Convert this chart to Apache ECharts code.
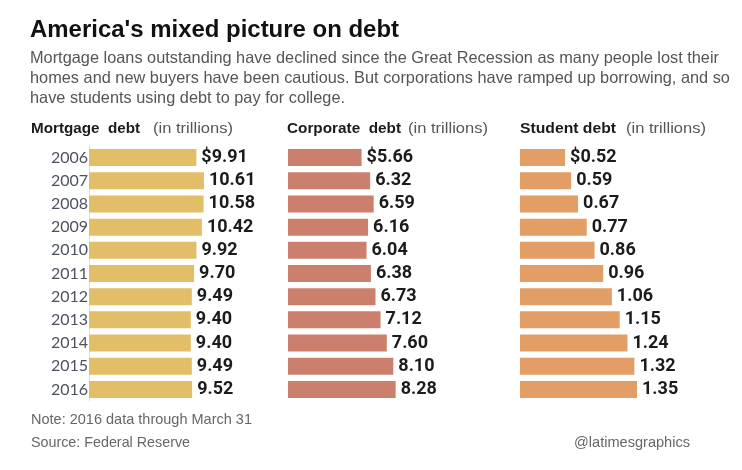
<!DOCTYPE html>
<html>
<head>
<meta charset="utf-8">
<script src="https://cdn.jsdelivr.net/npm/echarts@6/dist/echarts.min.js"></script>
<style>
html, body { margin: 0; padding: 0; background: #fff; }
#chart { width: 742px; height: 470px; }
</style>
</head>
<body>
<div id="chart"></div>
<script>
// 年份
var years = ['2006', '2007', '2008', '2009', '2010', '2011', '2012', '2013', '2014', '2015', '2016'];
// 三类债务（万亿美元）
var mortgageDebt = [9.91, 10.61, 10.58, 10.42, 9.92, 9.70, 9.49, 9.40, 9.40, 9.49, 9.52];
var corporateDebt = [5.66, 6.32, 6.59, 6.16, 6.04, 6.38, 6.73, 7.12, 7.60, 8.10, 8.28];
var studentDebt = [0.52, 0.59, 0.67, 0.77, 0.86, 0.96, 1.06, 1.15, 1.24, 1.32, 1.35];

var subtitleLines = [
	'Mortgage loans outstanding have declined since the Great Recession as many people lost their',
	'homes and new buyers have been cautious. But corporations have ramped up borrowing, and so',
	'have students using debt to pay for college.'
];

var family = "'Liberation Sans', Arial, sans-serif";
var measureCtx = document.createElement('canvas').getContext('2d');

//压窄字体：按目标宽度求横向缩放
function fitScale(str, size, weight, width) {
	measureCtx.font = weight + ' ' + size + 'px ' + family;
	return width / measureCtx.measureText(str).width;
}

function txt(str, x, y, size, weight, color, sx, align) {
	return {
		type : 'text',
		x : x,
		y : y,
		scaleX : sx,
		silent : true,
		style : {
			text : str,
			fontSize : size,
			fontWeight : weight,
			fontFamily : family,
			fill : color,
			align : align || 'left',
			verticalAlign : 'middle'
		}
	};
}

function fitTxt(str, x, y, size, weight, color, width, align) {
	return txt(str, x, y, size, weight, color, fitScale(str, size, weight, width), align);
}

var subScale = fitScale(subtitleLines[0], 16.5, 'normal', 689);
var texts = [
	fitTxt("America's mixed picture on debt", 30, 31, 23.5, 'bold', '#111', 369),
	fitTxt('Mortgage  debt', 31, 128.5, 15.5, 'bold', '#1b1b1b', 109),
	fitTxt('(in trillions)', 153, 128.5, 15.5, 'normal', '#555', 80),
	fitTxt('Corporate  debt', 287, 128.5, 15.5, 'bold', '#1b1b1b', 114),
	fitTxt('(in trillions)', 408, 128.5, 15.5, 'normal', '#555', 80),
	fitTxt('Student debt', 520, 128.5, 15.5, 'bold', '#1b1b1b', 96),
	fitTxt('(in trillions)', 626, 128.5, 15.5, 'normal', '#555', 80),
	fitTxt('Note: 2016 data through March 31', 31, 420, 15, 'normal', '#666', 221),
	fitTxt('Source: Federal Reserve', 31, 443, 15, 'normal', '#666', 159),
	fitTxt('@latimesgraphics', 690, 443, 15, 'normal', '#666', 116, 'right')
];
for (var i = 0; i < subtitleLines.length; i++) {
	texts.push(txt(subtitleLines[i], 30, 58 + i * 20, 16.5, 'normal', '#555', subScale));
}

var myChart = echarts.init(document.getElementById('chart'));

//数值标签，第一个带$
function valueLabel() {
	return {
		show : true,
		position : 'right',
		distance : 5,
		color : '#1b1b1b',
		fontFamily : 'Roboto',
		fontWeight : 'bold',
		fontSize : 18,
		formatter : function(p) {
			return (p.dataIndex === 0 ? '$' : '') + p.value.toFixed(2);
		}
	};
}

var option = {
	backgroundColor : '#fff',
	animation : false,
	graphic : texts,
	grid : [
		{ left : 89, top : 146, width : 130, height : 255 },
		{ left : 288, top : 146, width : 130, height : 255 },
		{ left : 520, top : 146, width : 130, height : 255 }
	],
	xAxis : [
		{ gridIndex : 0, type : 'value', min : 0, max : 12, show : false },
		{ gridIndex : 1, type : 'value', min : 0, max : 10, show : false },
		{ gridIndex : 2, type : 'value', min : 0, max : 1.5, show : false }
	],
	yAxis : [ {
		gridIndex : 0,
		type : 'category',
		inverse : true,
		data : years,
		axisLine : { show : true, lineStyle : { color : '#ddd', width : 1 } },
		axisTick : { show : false },
		axisLabel : { margin : 1, color : '#4d5260', fontFamily : 'Lato', fontSize : 16 }
	}, {
		gridIndex : 1,
		type : 'category',
		inverse : true,
		data : years,
		show : false
	}, {
		gridIndex : 2,
		type : 'category',
		inverse : true,
		data : years,
		show : false
	} ],
	series : [ {
		name : 'Mortgage debt',
		type : 'bar',
		xAxisIndex : 0,
		yAxisIndex : 0,
		barWidth : 17,
		data : mortgageDebt,
		itemStyle : { color : '#e3be69' },
		label : valueLabel()
	}, {
		name : 'Corporate debt',
		type : 'bar',
		xAxisIndex : 1,
		yAxisIndex : 1,
		barWidth : 17,
		data : corporateDebt,
		itemStyle : { color : '#cd7f6d' },
		label : valueLabel()
	}, {
		name : 'Student debt',
		type : 'bar',
		xAxisIndex : 2,
		yAxisIndex : 2,
		barWidth : 17,
		data : studentDebt,
		itemStyle : { color : '#e29e65' },
		label : valueLabel()
	} ]
};
myChart.setOption(option);
</script>
</body>
</html>
